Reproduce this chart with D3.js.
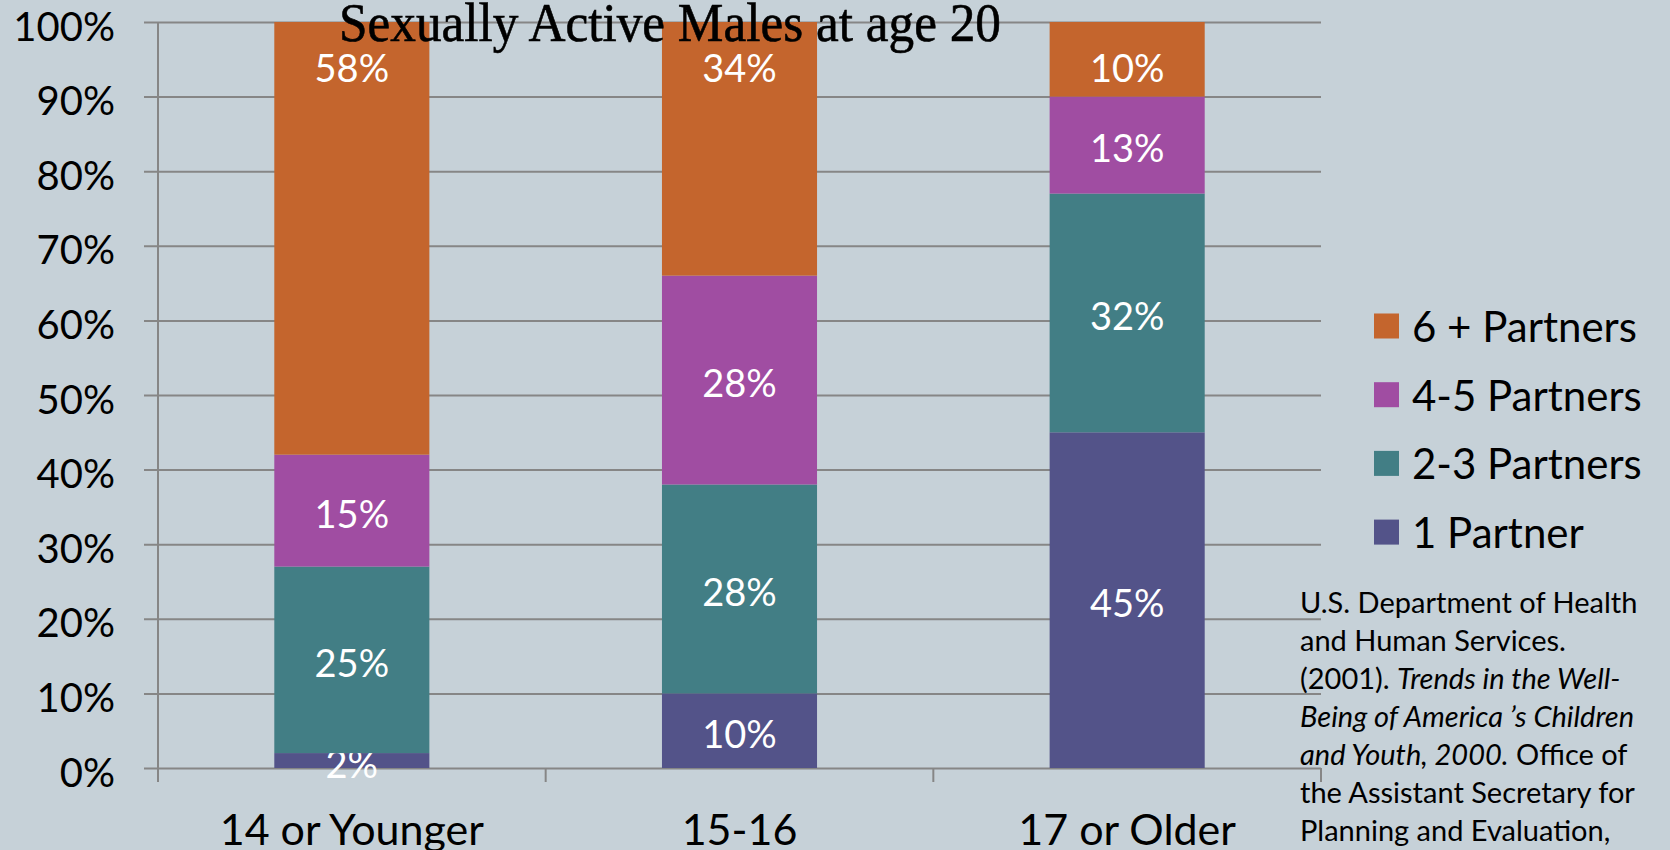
<!DOCTYPE html>
<html>
<head>
<meta charset="utf-8">
<script src="https://cdn.jsdelivr.net/npm/d3@7"></script>
<style>
  html, body { margin: 0; padding: 0; background: #c6d1d8; }
  svg { display: block; font-family: Lato, "Open Sans", sans-serif; }
</style>
</head>
<body>
<div id="chart"></div>
<script>
// data (percent of sexually active males at age 20, by age at first sex)
const categories = ['14 or Younger', '15-16', '17 or Older']
const seriesNames = ['1 Partner', '2-3 Partners', '4-5 Partners', '6 + Partners']
const onePartner = [2, 10, 45]
const twoThreePartners = [25, 28, 32]
const fourFivePartners = [15, 28, 13]
const sixPlusPartners = [58, 34, 10]
const seriesColors = ['#535389', '#427e85', '#a04da2', '#c4652d']
const yTicks = [0, 10, 20, 30, 40, 50, 60, 70, 80, 90, 100]
const title = 'Sexually Active Males at age 20'

const width = 1670
const height = 850
const margin = { top: 22, right: 349, bottom: 82, left: 158 }

const rows = categories.map((c, i) => ({
  category: c,
  '1 Partner': onePartner[i],
  '2-3 Partners': twoThreePartners[i],
  '4-5 Partners': fourFivePartners[i],
  '6 + Partners': sixPlusPartners[i]
}))

const svg = d3.select('#chart')
  .append('svg')
  .attr('width', width)
  .attr('height', height)

svg.append('rect')
  .attr('width', width)
  .attr('height', height)
  .attr('fill', '#c6d1d8')

const innerW = width - margin.left - margin.right
const innerH = height - margin.top - margin.bottom

const xs = d3.scaleBand()
  .domain(categories)
  .range([0, innerW])
  .paddingInner(0.6)
  .paddingOuter(0.3)
const ys = d3.scaleLinear()
  .domain([0, 100])
  .range([innerH, 0])
const color = d3.scaleOrdinal()
  .domain(seriesNames)
  .range(seriesColors)

const g = svg.append('g')
  .attr('transform', `translate(${margin.left},${margin.top})`)

// gridlines + y axis
const yAxis = g.append('g')
  .call(d3.axisLeft(ys)
    .tickValues(yTicks)
    .tickFormat(d => d + '%')
    .tickSize(14)
    .tickPadding(29))
yAxis.select('.domain')
  .attr('stroke', '#868686')
  .attr('stroke-width', 2)
  .attr('d', `M0,0V${innerH + 14}`)
yAxis.selectAll('.tick line')
  .attr('stroke', '#868686')
  .attr('stroke-width', 2)
  .attr('x2', innerW)
  .attr('x1', -14)
yAxis.selectAll('.tick text')
  .attr('fill', '#000')
  .style('font-size', '40px')
  .style('font-family', 'Lato, sans-serif')
  .attr('dy', '0.45em')

// stacked bars
const stacked = d3.stack().keys(seriesNames)(rows)

const layers = g.selectAll('.layer')
  .data(stacked)
  .join('g')
  .attr('class', 'layer')
  .attr('fill', d => color(d.key))

layers.selectAll('rect')
  .data(d => d)
  .join('rect')
  .attr('x', d => xs(d.data.category))
  .attr('width', xs.bandwidth())
  .attr('y', d => ys(d[1]))
  .attr('height', d => ys(d[0]) - ys(d[1]))

// x axis: ticks at category boundaries
const bounds = d3.range(categories.length + 1)
  .map(i => i === 0 ? 0 : i === categories.length ? innerW : xs(categories[i]) - xs.step() * xs.paddingInner() / 2)
g.append('g')
  .selectAll('line')
  .data(bounds)
  .join('line')
  .attr('x1', d => d)
  .attr('x2', d => d)
  .attr('y1', innerH)
  .attr('y2', innerH + 14)
  .attr('stroke', '#868686')
  .attr('stroke-width', 2)

g.append('g')
  .selectAll('text')
  .data(categories)
  .join('text')
  .attr('x', d => xs(d) + xs.bandwidth() / 2)
  .attr('y', innerH + 77)
  .attr('text-anchor', 'middle')
  .style('font-size', '43px')
  .attr('fill', '#000')
  .text(d => d)

// value labels; the top segment's label sits near the top of the bar
const topKey = seriesNames[seriesNames.length - 1]
layers.each(function (layer) {
  d3.select(this).selectAll('text')
    .data(layer)
    .join('text')
    .attr('x', d => xs(d.data.category) + xs.bandwidth() / 2)
    .attr('y', d => layer.key === topKey ? ys(100) + 60 : (ys(d[0]) + ys(d[1])) / 2 + 17)
    .attr('text-anchor', 'middle')
    .style('font-size', '38px')
    .attr('fill', '#fff')
    .text(d => (d[1] - d[0]) + '%')
})

// title (tall, narrow serif in the original)
svg.append('text')
  .attr('x', 339)
  .attr('y', 41)
  .attr('textLength', 662)
  .attr('lengthAdjust', 'spacingAndGlyphs')
  .style('font-family', '"Liberation Serif", "Times New Roman", serif')
  .style('font-size', '54px')
  .attr('fill', '#000')
  .attr('stroke', '#000')
  .attr('stroke-width', 0.6)
  .text(title)

// legend (top series first)
const legend = svg.append('g')
  .attr('transform', 'translate(1374,326)')
const legendItems = legend.selectAll('g')
  .data(seriesNames.slice().reverse())
  .join('g')
  .attr('transform', (d, i) => `translate(0,${i * 68.7})`)
legendItems.append('rect')
  .attr('x', 0)
  .attr('y', -12.5)
  .attr('width', 25)
  .attr('height', 25)
  .attr('fill', d => color(d))
legendItems.append('text')
  .attr('x', 38)
  .attr('y', 16)
  .style('font-size', '42px')
  .attr('fill', '#000')
  .text(d => d)

// source note
const source = [
  [['U.S. Department of Health', false]],
  [['and Human Services.', false]],
  [['(2001). ', false], ['Trends in the Well-', true]],
  [['Being of America \u2019s Children', true]],
  [['and Youth, 2000.', true], [' Office of', false]],
  [['the Assistant Secretary for', false]],
  [['Planning and Evaluation,', false]]
]
const note = svg.append('text')
  .attr('x', 1300)
  .attr('y', 613)
  .style('font-size', '29px')
  .attr('fill', '#000')
source.forEach((line, i) => {
  line.forEach((part, j) => {
    const t = note.append('tspan')
      .style('font-style', part[1] ? 'italic' : 'normal')
      .text(part[0])
    if (j === 0) t.attr('x', 1300).attr('dy', i === 0 ? 0 : 38)
  })
})
</script>
</body>
</html>
